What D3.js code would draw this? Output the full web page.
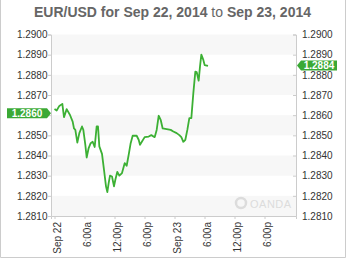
<!DOCTYPE html>
<html><head><meta charset="utf-8">
<script src="https://cdn.jsdelivr.net/npm/d3@7"></script>
<style>
html,body{margin:0;padding:0;background:#fff;}
svg{display:block;font-family:"Liberation Sans",Arial,sans-serif;}
</style></head>
<body><svg id="c" width="346" height="259"></svg>
<script>
const times = ["2014-09-22 00:00","2014-09-22 00:26","2014-09-22 00:58","2014-09-22 01:34","2014-09-22 01:54","2014-09-22 02:26","2014-09-22 03:06","2014-09-22 03:38","2014-09-22 03:54","2014-09-22 04:10","2014-09-22 04:34","2014-09-22 04:58","2014-09-22 05:30","2014-09-22 05:46","2014-09-22 06:10","2014-09-22 06:26","2014-09-22 06:50","2014-09-22 07:14","2014-09-22 07:38","2014-09-22 08:02","2014-09-22 08:26","2014-09-22 08:42","2014-09-22 08:58","2014-09-22 09:30","2014-09-22 09:54","2014-09-22 10:18","2014-09-22 10:34","2014-09-22 10:50","2014-09-22 11:06","2014-09-22 11:30","2014-09-22 11:54","2014-09-22 12:10","2014-09-22 12:34","2014-09-22 12:58","2014-09-22 13:30","2014-09-22 14:02","2014-09-22 14:26","2014-09-22 14:50","2014-09-22 15:14","2014-09-22 15:38","2014-09-22 16:26","2014-09-22 16:50","2014-09-22 17:06","2014-09-22 17:30","2014-09-22 18:02","2014-09-22 18:50","2014-09-22 19:22","2014-09-22 20:02","2014-09-22 20:26","2014-09-22 20:50","2014-09-22 21:14","2014-09-22 21:38","2014-09-22 22:26","2014-09-22 23:14","2014-09-22 23:46","2014-09-23 00:26","2014-09-23 00:58","2014-09-23 01:22","2014-09-23 01:46","2014-09-23 02:10","2014-09-23 02:34","2014-09-23 02:58","2014-09-23 03:22","2014-09-23 03:46","2014-09-23 04:10","2014-09-23 04:26","2014-09-23 04:50","2014-09-23 05:06","2014-09-23 05:22","2014-09-23 05:46","2014-09-23 06:02","2014-09-23 06:42"];
const rates = [1.2863,1.28623,1.28646,1.28656,1.2859,1.2863,1.28601,1.28568,1.28534,1.28527,1.28464,1.28511,1.28544,1.28527,1.28453,1.2839,1.28437,1.28461,1.28468,1.28442,1.28544,1.28544,1.28445,1.28408,1.28329,1.28247,1.28219,1.28263,1.2830,1.28296,1.28247,1.2828,1.28319,1.2830,1.28313,1.28362,1.28349,1.28403,1.28461,1.28498,1.28498,1.28478,1.28453,1.28469,1.28491,1.28494,1.28501,1.28491,1.28527,1.28597,1.28577,1.28534,1.28531,1.28527,1.28519,1.28511,1.28501,1.28491,1.28468,1.28478,1.28527,1.28585,1.28585,1.28709,1.28816,1.28814,1.28771,1.28841,1.2890,1.28874,1.28848,1.28844];
const yTicks = [1.2900,1.2890,1.2880,1.2870,1.2860,1.2850,1.2840,1.2830,1.2820,1.2810];
const xTickTimes = ["2014-09-22 00:00","2014-09-22 06:00","2014-09-22 12:00","2014-09-22 18:00","2014-09-23 00:00","2014-09-23 06:00","2014-09-23 12:00","2014-09-23 18:00"];
const xTickLabels = ["Sep 22","6:00a","12:00p","6:00p","Sep 23","6:00a","12:00p","6:00p"];
const xDomain = ["2014-09-21 23:18","2014-09-24 00:18"];
const openLabel = "1.2860", openValue = 1.2860;
const lastLabel = "1.2884", lastValue = 1.2884;
const titleParts = [["EUR/USD for Sep 22, 2014",700],[" to ",400],["Sep 23, 2014",700]];

const parse = d3.timeParse("%Y-%m-%d %H:%M");
const data = times.map((t,i)=>({t:parse(t), v:rates[i]}));
const L=51, R=296, T=34.5, B=216;
const x = d3.scaleTime().domain(xDomain.map(parse)).range([L,R]);
const y = d3.scaleLinear().domain([1.2810,1.2900]).range([B,T]);
const svg = d3.select("#c");
const grey="#cccccc";

// bands
for(let i=0;i<yTicks.length-1;i+=2){
  svg.append("rect").attr("x",L).attr("width",R-L)
    .attr("y",y(yTicks[i])).attr("height",y(yTicks[i+1])-y(yTicks[i]))
    .attr("fill","#f7f7f7");
}
// watermark
const wm = svg.append("g").attr("fill","#dcdcdc");
wm.append("circle").attr("cx",241).attr("cy",203).attr("r",5).attr("fill","none").attr("stroke","#dcdcdc").attr("stroke-width",2.5);
wm.append("text").attr("x",250).attr("y",208).attr("font-size",11).attr("letter-spacing",0.5).text("OANDA");

// axes (left axis label hidden by the opening badge is not drawn)
const yl = d3.axisLeft(y).tickValues(yTicks).tickSize(3).tickFormat(d=>Math.abs(d-openValue)<1e-9?"":d3.format(".4f")(d));
const gl = svg.append("g").attr("transform",`translate(${L},0)`).call(yl);
const yr = d3.axisLeft(y).tickValues(yTicks).tickSize(3).tickFormat(d3.format(".4f"));
const gr = svg.append("g").attr("transform",`translate(${R},0)`).call(yr);
gr.selectAll("text").attr("x",6).attr("text-anchor","start");
const xa = d3.axisBottom(x).tickValues(xTickTimes.map(parse)).tickSize(3).tickFormat((d,i)=>xTickLabels[i]);
const gx = svg.append("g").attr("transform",`translate(0,${B})`).call(xa);
gx.selectAll("text").attr("text-anchor","end").attr("dy","0.35em").attr("y",0).attr("x",0)
  .attr("transform","translate(2,6) rotate(-90)");
[gl,gr,gx].forEach(g=>{
  g.select(".domain").attr("stroke",grey);
  g.selectAll(".tick line").attr("stroke",grey);
  g.selectAll("text").attr("fill","#333").attr("font-size",10).attr("font-family","'Liberation Sans',Arial,sans-serif");
});
gl.selectAll("text").attr("x",-3.5);
gl.selectAll("text").filter(function(){return this.textContent==="";}).remove();

// line
svg.append("path").datum(data).attr("fill","none").attr("stroke","#3cb034").attr("stroke-width",1.8)
  .attr("stroke-linejoin","round").attr("d",d3.line().x(d=>x(d.t)).y(d=>y(d.v)));

// badges
function badge(cy, x0, x1, tip, label){
  const h=5;
  const pts = tip<x0 ? [[tip,cy],[x0,cy-h],[x1,cy-h],[x1,cy+h],[x0,cy+h]]
                     : [[x0,cy-h],[x1,cy-h],[tip,cy],[x1,cy+h],[x0,cy+h]];
  svg.append("polygon").attr("points",pts.map(p=>p.join(",")).join(" ")).attr("fill","#3aa935");
  svg.append("text").attr("x",(x0+x1)/2).attr("y",cy).attr("dy","0.36em").attr("text-anchor","middle")
    .attr("fill","#fff").attr("font-weight","bold").attr("font-size",10).text(label);
}
badge(y(openValue)-2, 7, 47, 51, openLabel);
badge(y(lastValue)-1.3, 301, 337, 297, lastLabel);

// title
const tt = svg.append("text").attr("x",172.5).attr("y",17).attr("text-anchor","middle")
  .attr("font-size",14).attr("fill","#666");
titleParts.forEach(p=>tt.append("tspan").attr("font-weight",p[1]).text(p[0]));

// outer border
svg.append("path").attr("d","M0.5,0V257.5H345.5V0").attr("fill","none").attr("stroke",grey);
</script></body></html>
